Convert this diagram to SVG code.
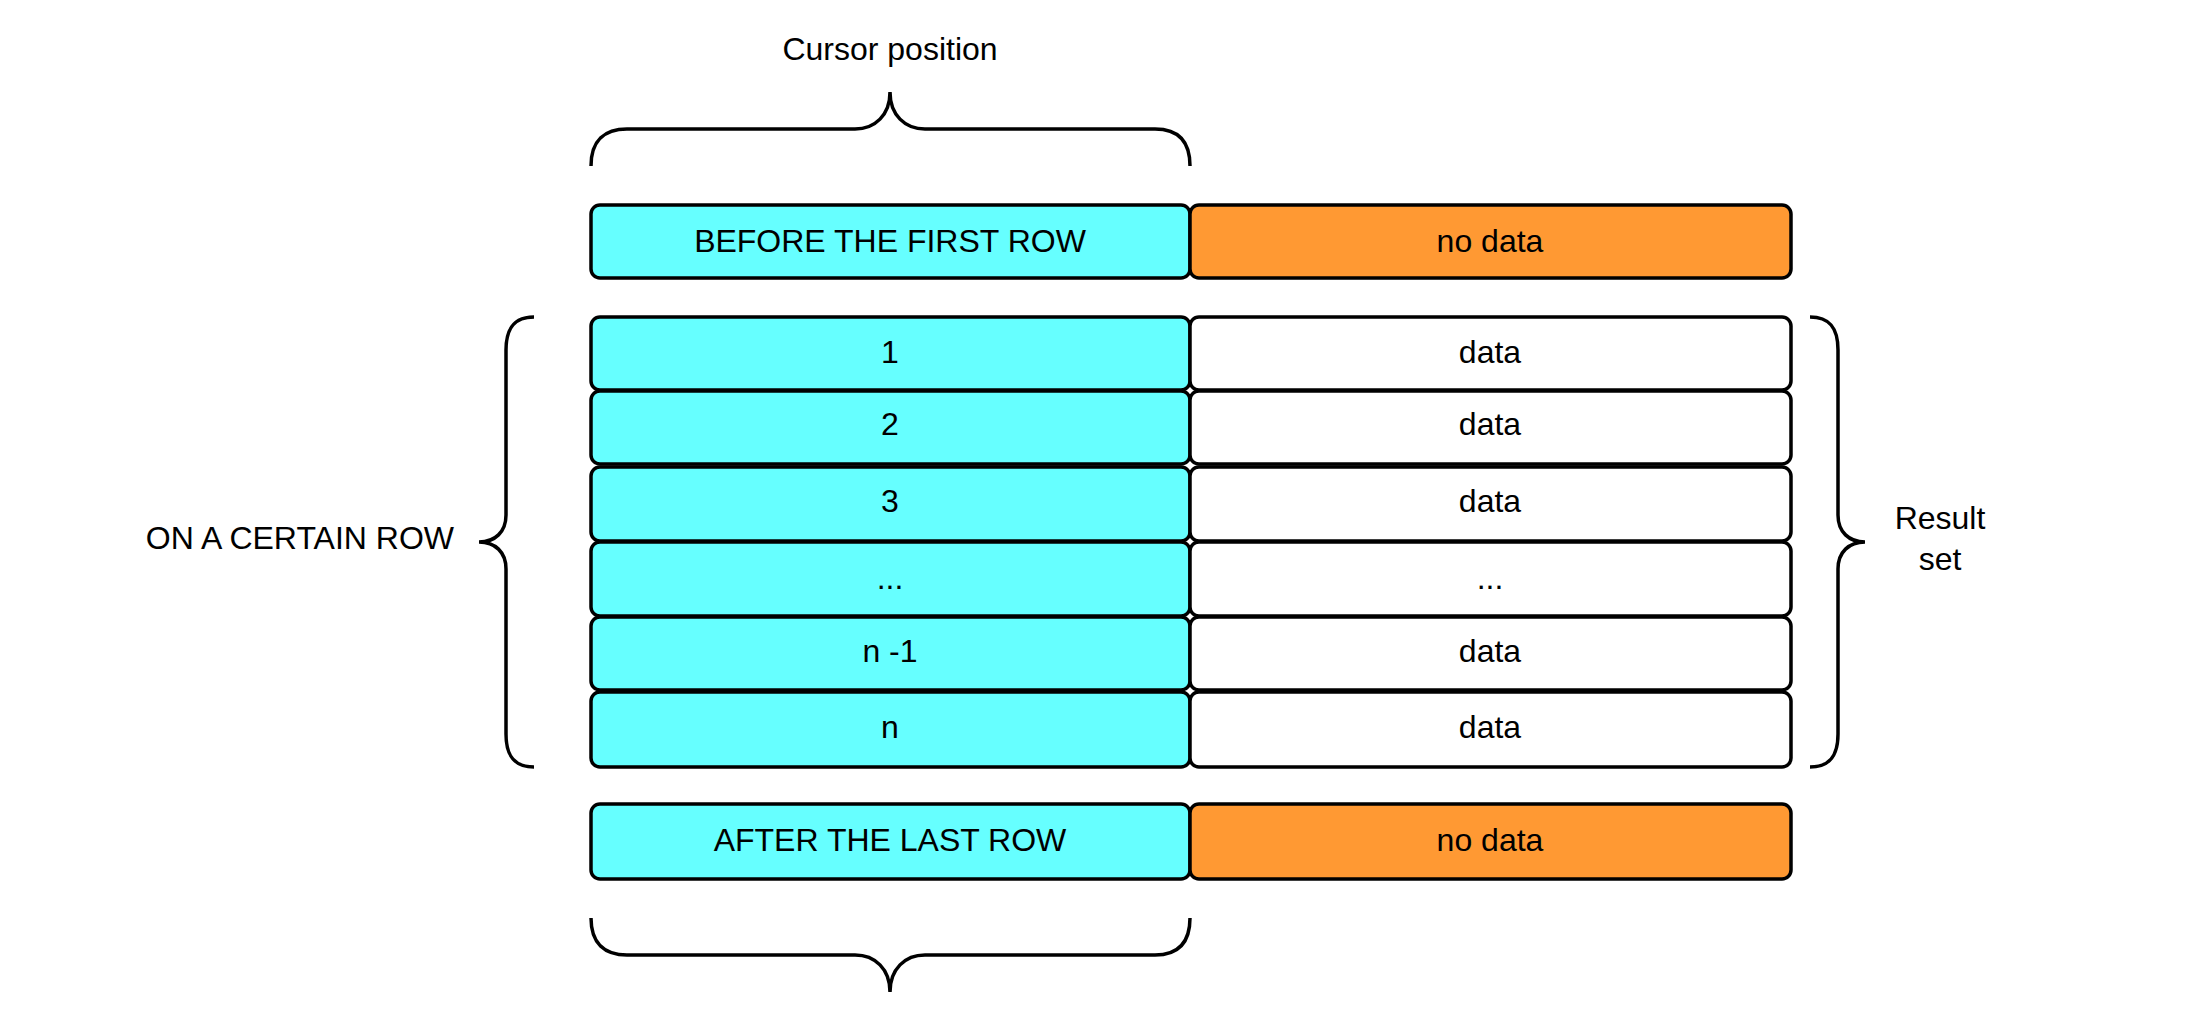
<svg xmlns="http://www.w3.org/2000/svg" width="2190" height="1011" viewBox="0 0 2190 1011">
<style>
.c{fill:#66ffff;stroke:#000;stroke-width:3.5}
.o{fill:#ff9933;stroke:#000;stroke-width:3.5}
.w{fill:#fff;stroke:#000;stroke-width:3.5}
.b{fill:none;stroke:#000;stroke-width:3.5}
text{font-family:"Liberation Sans",Arial,sans-serif;font-size:32px;fill:#000;text-anchor:middle}
</style>
<rect width="2190" height="1011" fill="#fff"/>
<g id="braces">
<path class="b" d="M591,166 C591,140 605,129 627,129 L855,129 C875,129 890,115 890,92 C890,115 905,129 925,129 L1155,129 C1177,129 1190,140 1190,166"/>
<path class="b" d="M591,918 C591,944 605,955 627,955 L855,955 C875,955 890,969 890,992 C890,969 905,955 925,955 L1155,955 C1177,955 1190,944 1190,918"/>
<path class="b" d="M534,317 C515,317 506,327 506,350 L506,515 C506,532 495,542 479,542 C495,542 506,552 506,569 L506,734 C506,757 515,767 534,767"/>
<path class="b" d="M1810,317 C1829,317 1838,327 1838,350 L1838,515 C1838,532 1849,542 1865,542 C1849,542 1838,552 1838,569 L1838,734 C1838,757 1829,767 1810,767"/>
</g>
<text x="890" y="60">Cursor position</text>
<text x="454" y="549" text-anchor="end" style="text-anchor:end">ON A CERTAIN ROW</text>
<text x="1940" y="529">Result</text>
<text x="1940" y="570">set</text>
<g id="r0"><rect class="c" x="591" y="205" width="599" height="73" rx="9"/><text x="890" y="252">BEFORE THE FIRST ROW</text>
<rect class="o" x="1190" y="205" width="601" height="73" rx="9"/><text x="1490" y="252">no data</text></g>
<g id="r1"><rect class="c" x="591" y="317" width="599" height="73" rx="9"/><text x="890" y="363">1</text>
<rect class="w" x="1190" y="317" width="601" height="73" rx="9"/><text x="1490" y="363">data</text></g>
<g id="r2"><rect class="c" x="591" y="391" width="599" height="73" rx="9"/><text x="890" y="435">2</text>
<rect class="w" x="1190" y="391" width="601" height="73" rx="9"/><text x="1490" y="435">data</text></g>
<g id="r3"><rect class="c" x="591" y="467" width="599" height="74" rx="9"/><text x="890" y="512">3</text>
<rect class="w" x="1190" y="467" width="601" height="74" rx="9"/><text x="1490" y="512">data</text></g>
<g id="r4"><rect class="c" x="591" y="542" width="599" height="74" rx="9"/><text x="890" y="589">...</text>
<rect class="w" x="1190" y="542" width="601" height="74" rx="9"/><text x="1490" y="589">...</text></g>
<g id="r5"><rect class="c" x="591" y="617" width="599" height="73" rx="9"/><text x="890" y="662">n -1</text>
<rect class="w" x="1190" y="617" width="601" height="73" rx="9"/><text x="1490" y="662">data</text></g>
<g id="r6"><rect class="c" x="591" y="692" width="599" height="75" rx="9"/><text x="890" y="738">n</text>
<rect class="w" x="1190" y="692" width="601" height="75" rx="9"/><text x="1490" y="738">data</text></g>
<g id="r7"><rect class="c" x="591" y="804" width="599" height="75" rx="9"/><text x="890" y="851">AFTER THE LAST ROW</text>
<rect class="o" x="1190" y="804" width="601" height="75" rx="9"/><text x="1490" y="851">no data</text></g>
</svg>
